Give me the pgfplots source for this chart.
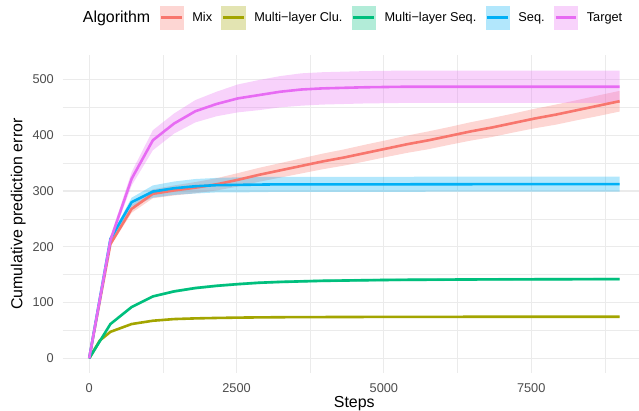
\documentclass[border=0pt]{standalone}
\usepackage{fontspec}
\setmainfont{Liberation Sans}
\usepackage{pgfplots}
\usepackage{pgfplotstable}
\pgfplotsset{compat=1.18}
\usepgfplotslibrary{fillbetween}

\definecolor{mixc}{HTML}{F8766D}
\definecolor{cluc}{HTML}{A3A500}
\definecolor{mseqc}{HTML}{00BF7D}
\definecolor{seqc}{HTML}{00B0F6}
\definecolor{tgtc}{HTML}{E76BF3}
\definecolor{gridc}{HTML}{EBEBEB}
\definecolor{tickc}{HTML}{4D4D4D}

% x = steps, m = mean, h = half width of the band
\pgfplotstableread{
x m h
0 0 0
360 205 4
720 268 7
1080 295 8
1440 301 9
1800 306 10
2160 312 11
2520 320 12
2880 329 12.5
3240 337 13
3600 345 13.5
3960 353 14
4320 360 14.5
4680 368 15
5040 376 15
5400 384 15.5
5760 391 16
6120 399 16
6480 407 16.5
6840 414 17
7200 422 17
7560 430 17.5
7920 437 18
8280 445 18
8640 453 18.5
9000 461 18.5
}\tmix

\pgfplotstableread{
x m h
0 0 0
180 32 0.5
360 47.5 1
720 61.5 1
1080 67.4 1
1440 70.4 1
1800 71.6 1
2160 72.4 1
2520 73 1
2880 73.4 1
3240 73.7 1
3600 73.9 1
3960 74 1
4320 74.1 1
4680 74.2 1
5040 74.3 1
5400 74.3 1
5760 74.4 1
6120 74.4 1
6480 74.5 1
6840 74.5 1
7200 74.5 1
7560 74.6 1
7920 74.6 1
8280 74.6 1
8640 74.6 1
9000 74.6 1
}\tclu

\pgfplotstableread{
x m h
0 0 0
360 61.5 1.5
720 92 2
1080 111 2
1440 120 2.5
1800 126 2.5
2160 130 2.5
2520 133 2.5
2880 135.5 2.5
3240 137 2.5
3600 138 2.5
3960 139 2.5
4320 139.5 2.5
4680 140 2.5
5040 140.5 2.5
5400 140.8 2.5
5760 141 2.5
6120 141.2 2.5
6480 141.4 2.5
6840 141.5 2.5
7200 141.6 2.5
7560 141.7 2.5
7920 141.8 2.5
8280 141.9 2.5
8640 142 2.5
9000 142 2.5
}\tmseq

\pgfplotstableread{
x m h
0 0 0
360 214 4
720 280 8
1080 299 11
1440 305 12
1800 308.5 13
2160 310.5 13
2520 311 13.5
2880 311.5 13.5
3240 312 13.5
3600 312 13.5
3960 312 13.5
4320 312 13.5
4680 312 13.5
5040 312 13.5
5400 312 13.5
5760 312.2 13.5
6120 312.2 13.5
6480 312.2 13.5
6840 312.3 13.5
7200 312.3 13.5
7560 312.3 13.5
7920 312.4 13.5
8280 312.4 13.5
8640 312.4 13.5
9000 312.4 13.5
}\tseq

\pgfplotstableread{
x m h
0 0 0
360 212 6
720 322 12
1080 391 18
1440 421 18
1800 443 20
2160 456 22
2520 466 25
2880 472 27
3240 478 28
3600 482 29
3960 484 29
4320 485 29
4680 486 29
5040 486.5 29
5400 487 29
5760 487 29
6120 487 29
6480 487 29
6840 487 29
7200 487 29
7560 487 29
7920 487 29
8280 487 29
8640 487 29
9000 487 29
}\ttgt

\pgfplotsset{
  keyimg/.style={legend image code/.code={
    \fill[#1!30!white] (0bp,-11.7bp) rectangle (23.4bp,11.7bp);
    \draw[#1, line width=2.6bp] (1.5bp,0bp) -- (21.9bp,0bp);}},
  mline/.style={#1, line width=2.6bp, line join=round, forget plot},
  band/.style={fill=#1, fill opacity=0.3, draw=none, forget plot},
}

\newcommand{\ribbon}[3]{%
  \addplot[draw=none, name path=#3U, forget plot] table[x=x, y expr=\thisrow{m}+\thisrow{h}] {#1};
  \addplot[draw=none, name path=#3L, forget plot] table[x=x, y expr=\thisrow{m}-\thisrow{h}] {#1};
  \addplot[band=#2] fill between[of=#3U and #3L];
}

\begin{document}
\begin{tikzpicture}
\begin{axis}[
    at={(0,0)}, anchor=south west,
    scale only axis,
    width=576.3bp, height=317.8bp,
    xmin=-450, xmax=9329,
    ymin=-26.3, ymax=543.5,
    xtick={0,2500,5000,7500},
    xticklabels={0,2500,5000,7500},
    minor xtick={1250,3750,6250,8750},
    ytick={0,100,200,300,400,500},
    minor ytick={50,150,250,350,450,550},
    grid=both,
    major grid style={gridc, line width=1.1bp},
    minor grid style={gridc, line width=0.55bp},
    axis line style={draw=none},
    major tick length=0pt, minor tick length=0pt,
    /pgf/number format/assume math mode=true,
    ticklabel style={font=\fontsize{12.8}{15}\selectfont, text=tickc},
    xticklabel style={anchor=north, inner sep=0pt, yshift=-10bp},
    yticklabel style={anchor=east, inner sep=0pt, xshift=-8.7bp},
    xlabel={Steps},
    ylabel={Cumulative prediction error},
    every axis x label/.style={at={(axis description cs:0,0)}, xshift=291.6bp, yshift=-34bp,
        anchor=base, font=\fontsize{16}{19}\selectfont},
    every axis y label/.style={at={(axis description cs:0,0.5)}, xshift=-44.4bp, rotate=90,
        anchor=center, font=\fontsize{16}{19}\selectfont},
    legend columns=-1,
    legend style={at={(axis description cs:0,1)}, xshift=11bp, yshift=37.5bp, anchor=west,
        draw=none, fill=none, inner sep=0pt,
        font=\fontsize{12.8}{15}\selectfont,
        nodes={inner sep=0pt, anchor=west},
        /tikz/every odd column/.append style={column sep=9bp},
        /tikz/every even column/.append style={column sep=9.3bp},
        /tikz/column 1/.append style={column sep=0pt},
        /tikz/column 2/.append style={column sep=11bp}},
]
% lines first, ribbons on top of them
\addplot[mline=mixc] table[x=x, y=m] {\tmix};
\addplot[mline=cluc] table[x=x, y=m] {\tclu};
\addplot[mline=mseqc] table[x=x, y=m] {\tmseq};
\addplot[mline=seqc] table[x=x, y=m] {\tseq};
\addplot[mline=tgtc] table[x=x, y=m] {\ttgt};

\ribbon{\tmix}{mixc}{mx}
\ribbon{\tclu}{cluc}{cl}
\ribbon{\tmseq}{mseqc}{ms}
\ribbon{\tseq}{seqc}{sq}
\ribbon{\ttgt}{tgtc}{tg}

\addlegendimage{empty legend}
\addlegendentry{\fontsize{16}{19}\selectfont Algorithm}
\addlegendimage{keyimg=mixc}
\addlegendentry{Mix}
\addlegendimage{keyimg=cluc}
\addlegendentry{Multi−layer Clu.}
\addlegendimage{keyimg=mseqc}
\addlegendentry{Multi−layer Seq.}
\addlegendimage{keyimg=seqc}
\addlegendentry{Seq.}
\addlegendimage{keyimg=tgtc}
\addlegendentry{Target}
\end{axis}
\pgfresetboundingbox
\path[use as bounding box] (-62.7bp,-38bp) rectangle (576.3bp,373bp);
\end{tikzpicture}
\end{document}
